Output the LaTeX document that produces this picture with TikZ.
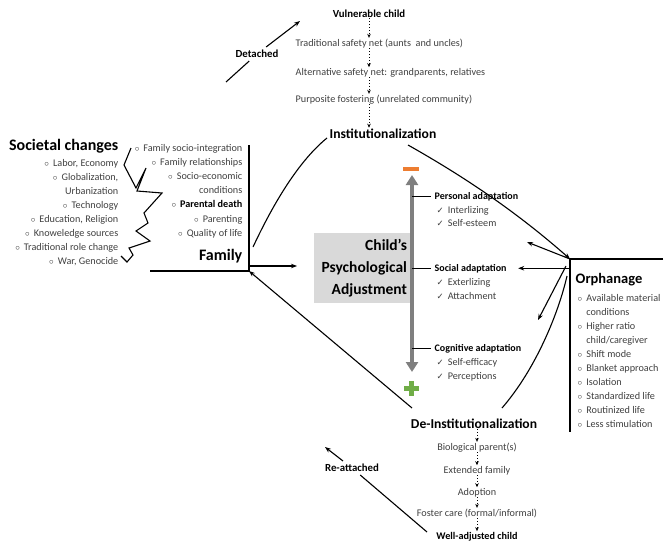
\documentclass[tikz,border=0pt]{standalone}
\usepackage{fontspec}
\setmainfont{Carlito}
\newfontfamily\symfont{DejaVu Sans}
\usetikzlibrary{arrows.meta}

\definecolor{txtgray}{HTML}{404040}
\definecolor{boxgray}{HTML}{D9D9D9}
\definecolor{axisgray}{HTML}{7F7F7F}
\definecolor{minusorange}{HTML}{ED7D31}
\definecolor{plusgreen}{HTML}{70AD47}

\newcommand{\itembul}{{\small$\circ$}\hspace{4pt}}
\newcommand{\chk}{{\symfont\fontsize{8.5}{8.5}\selectfont ✓}\hspace{4pt}}

\tikzset{
	item/.style={font=\fontsize{10.2}{14}\selectfont, text=txtgray, inner sep=0.5pt},
	head/.style={font=\bfseries\fontsize{10.8}{12}\selectfont, inner sep=0.5pt},
	subhead/.style={font=\bfseries\fontsize{10}{12}\selectfont, inner sep=0.5pt},
	bighead/.style={font=\bfseries\fontsize{16}{18}\selectfont, inner sep=0.5pt},
	midhead/.style={font=\bfseries\fontsize{13.6}{15}\selectfont, inner sep=0.5pt},
	frame/.style={line width=1.1pt},
	link/.style={line width=1.1pt, -{Stealth[length=6pt,width=4.5pt]}},
	chain/.style={dotted, line width=1pt, -{Stealth[length=4pt,width=3.5pt]}},
	axis/.style={axisgray, line width=4pt, {Triangle[length=10pt,width=12pt]}-{Triangle[length=10pt,width=12pt]}}
}

\begin{document}
\begin{tikzpicture}[x=1pt, y=-1pt]
\useasboundingbox (0,0) rectangle (667,557);

% top chain
\node[head, anchor=base](vc) at(369,17.5) {Vulnerable child};
\foreach [count=\i] \t\y in {{Traditional safety net (aunts\ \ and uncles)}/46,{Alternative safety net: grandparents, relatives}/75,{Purposite fostering (unrelated community)}/102}{
	\node[item, anchor=base west](t\i) at(295,\y) {\t};
}
\node[midhead, anchor=base](inst) at(383,138) {Institutionalization};

\foreach \u \v in {
vc/t1%
,t1/t2%
,t2/t3%
,t3/inst%
}{
	\draw[chain] (vc.south |- \u.south) -- (vc.south |- \v.north);
}

\coordinate(detlow) at(226,82);
\coordinate(dethigh) at(300,21);
\node[head, inner sep=3pt](det) at(257,54) {Detached};
\draw[frame] (detlow) -- (det);
\draw[link] (det) -- (dethigh);

% societal changes
\node[bighead, anchor=base east](soc) at(119,150) {Societal changes};
\foreach [count=\i] \t in {{\itembul Labor, Economy},{\itembul Globalization,},{Urbanization},{\itembul Technology},{\itembul Education, Religion},{\itembul Knoweledge sources},{\itembul Traditional role change},{\itembul War, Genocide}}{
	\node[item, anchor=base east](s\i) at(119,{166+14*(\i-1)}) {\t};
}
\draw[frame] (131,148) -- (124,165) -- (136,188) -- (146,168) -- (137,191) -- (162,193) -- (144,213) -- (148,223) -- (136,231) -- (150,241) -- (129,248) -- (133,255) -- (127,262) -- (121,256);

% family
\coordinate(famtop) at(249,145);
\coordinate(famcorner) at(249,271);
\coordinate(famleft) at(150,271);
\draw[frame] (famtop) -- (famcorner) -- (famleft);
\node[bighead, anchor=base east](fam) at(243,260) {Family};
\foreach [count=\i] \t in {{\itembul Family socio-integration},{\itembul Family relationships},{\itembul Socio-economic},{conditions},{\itembul\textbf{\color{black}Parental death}},{\itembul Parenting},{\itembul Quality of life}}{
	\node[item, anchor=base east](f\i) at(243,{151+14.2*(\i-1)}) {\t};
}

% child's adjustment
\node[fill=boxgray, text width=90pt, align=right, inner sep=3pt, minimum height=70pt, font=\bfseries\fontsize{15.5}{22}\selectfont](adj) at(362,268) {Child’s\\Psychological\\Adjustment};
\draw[link] (famcorner) ++(0,-5) -- ++(48,0);

\coordinate(axtop) at(412,175);
\coordinate(axbot) at(412,372);
\draw[axis] (axtop) -- (axbot);
\node[fill=minusorange, minimum width=16pt, minimum height=4pt, inner sep=0pt](neg) at(411,169) {};
\node[fill=plusgreen, minimum width=15pt, minimum height=5pt, inner sep=0pt](pos) at(411,388) {};
\node[fill=plusgreen, minimum width=5pt, minimum height=15pt, inner sep=0pt](posv) at(pos) {};

\foreach [count=\i] \n\y in {Personal/199.5,Social/271,Cognitive/351}{
	\node[subhead, anchor=base west](ad\i) at(434,\y) {\n\ adaptation};
	\draw[frame] (axtop |- ad\i.west) -- ([xshift=-3pt]ad\i.west);
}
\foreach [count=\i] \t\y in {Interlizing/213,Self-esteem/226.5,Exterlizing/285,Attachment/299,Self-efficacy/365,Perceptions/379.5}{
	\node[item, anchor=base west](c\i) at(436,\y) {\chk\t};
}

% orphanage
\coordinate(orphcorner) at(570,259);
\draw[frame] (663,259) -- (orphcorner) -- (570,432);
\node[bighead, font=\bfseries\fontsize{14.5}{16}\selectfont, anchor=base west](orph) at(575,283) {Orphanage};
\foreach [count=\i] \t in {{\itembul Available material},{\phantom{\itembul}conditions},{\itembul Higher ratio},{\phantom{\itembul}child/caregiver},{\itembul Shift mode},{\itembul Blanket approach},{\itembul Isolation},{\itembul Standardized life},{\itembul Routinized life},{\itembul Less stimulation}}{
	\node[item, anchor=base west](o\i) at(577,{301+14.1*(\i-1)}) {\t};
}

\coordinate(instR) at(408,145);
\coordinate(instL) at(327,138);
\coordinate(famup) at(253,247);
\draw[frame] (famup) .. controls (275,200) and (300,160) .. (instL);
\draw[link] (instR) .. controls (470,180) and (520,215) .. (orphcorner);

\coordinate(persend) at(527,242);
\draw[link] (orphcorner) -- (persend);
\draw[link] (orphcorner |- ad2.west) -- ([xshift=11pt]ad2.east);
\coordinate(orphmid) at(566,266);
\coordinate(cogend) at(538,320);
\draw[link] (orphmid) -- (cogend);
\coordinate(orphdown) at(567,276);
\coordinate(deiR) at(502,408);
\draw[frame] (orphdown) .. controls (558,315) and (535,370) .. (deiR);

% de-institutionalization
\node[midhead, anchor=base](dei) at(474,428) {De-Institutionalization};
\coordinate(deiL) at(412,408);
\draw[link] (deiL) -- (famcorner);

\foreach [count=\i] \t\y in {{Biological parent(s)}/450,{Extended family}/473,{Adoption}/495,{Foster care (formal/informal)}/516,{\textbf{\color{black}Well-adjusted child}}/539}{
	\node[item, anchor=base](b\i) at(477,\y) {\t};
}
\foreach \u \v in {
dei/b1%
,b1/b2%
,b2/b3%
,b3/b4%
,b4/b5%
}{
	\draw[chain] (b1.south |- \u.south) -- (b1.south |- \v.north);
}

\coordinate(relow) at(427,532);
\coordinate(rehigh) at(325,447);
\node[head, inner sep=3pt](reatt) at(352,468) {Re-attached};
\draw[frame] (relow) -- (reatt);
\draw[link] (reatt) -- (rehigh);

\end{tikzpicture}
\end{document}
